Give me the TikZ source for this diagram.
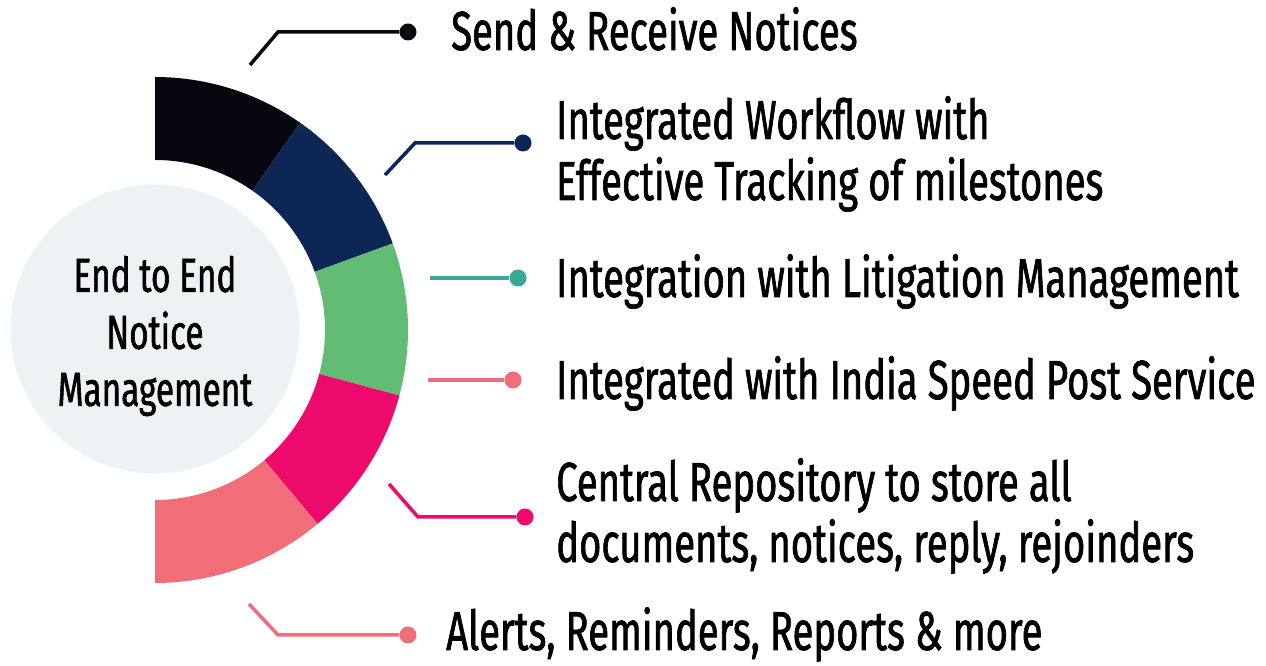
\documentclass[tikz,border=0pt]{standalone}
\usepackage{fontspec}
\setmainfont{Fira Sans}[FakeStretch=0.695, FakeBold=1.2]
\usetikzlibrary{calc}
\definecolor{segblack}{HTML}{07070F}
\definecolor{segnavy}{HTML}{0C2656}
\definecolor{seggreen}{HTML}{62BC74}
\definecolor{segpink}{HTML}{EE0A6C}
\definecolor{segsalmon}{HTML}{F16E78}
\definecolor{linkteal}{HTML}{3AA898}
\definecolor{hubgray}{HTML}{EDF2F4}

\begin{document}
\begin{tikzpicture}[x=1pt, y=1pt,
    bullet/.style={circle, fill=#1, inner sep=0pt, minimum size=17pt},
    link/.style={draw=#1, line width=3.5pt},
    item/.style={anchor=base west, inner sep=0pt, align=left, font=\fontsize{55}{61}\selectfont}]
\useasboundingbox (0,0) rectangle (1266,666);
\coordinate (c) at (155,336);
% ring
\foreach \a/\b/\col in {90/55/segblack, 55/20/segnavy, 20/-15/seggreen, -15/-50/segpink, -50/-90/segsalmon}
  \fill[\col] ($(c)+(\a:253)$) arc[start angle=\a, end angle=\b, radius=253]
    -- ($(c)+(\b:170)$) arc[start angle=\b, end angle=\a, radius=170] -- cycle;
\node[circle, fill=hubgray, minimum size=289pt, inner sep=0pt] (hub) at (155,337) {};
\node[align=center, inner sep=0pt, font=\fontsize{48}{57}\selectfont] (hubtext)
  at ([yshift=-7pt]hub.center) {End to End\\Notice\\Management};
% connectors
\coordinate (s1) at (250,601);
\coordinate (s2) at (385,491);
\coordinate (s3) at (430,388);
\coordinate (s4) at (428,286);
\coordinate (s5) at (389,182);
\coordinate (s6) at (249,62);
\node[bullet=segblack] (d1) at (408,634) {};
\node[bullet=segnavy] (d2) at (523,523) {};
\node[bullet=linkteal] (d3) at (518,388) {};
\node[bullet=segsalmon] (d4) at (513,286) {};
\node[bullet=segpink] (d5) at (525,149) {};
\node[bullet=segsalmon] (d6) at (408,31) {};
\draw[link=segblack] (s1) -- ++(28,33) -- (d1);
\draw[link=segnavy] (s2) -- ++(30,32) -- (d2);
\draw[link=linkteal] (s3) -- (d3);
\draw[link=segsalmon] (s4) -- (d4);
\draw[link=segpink] (s5) -- ++(29,-33) -- (d5);
\draw[link=segsalmon] (s6) -- ++(29,-31) -- (d6);
% texts (base = last line)
\node[item] (t1) at (451,616) {Send \& Receive Notices};
\node[item] (t2) at (556,466) {Integrated Workflow with\\Effective Tracking of milestones};
\node[item] (t3) at (556,369) {Integration with Litigation Management};
\node[item] (t4) at (556,267) {Integrated with India Speed Post Service};
\node[item] (t5) at (556,104) {Central Repository to store all\\documents, notices, reply, rejoinders};
\node[item] (t6) at (446,16) {Alerts, Reminders, Reports \& more};
\end{tikzpicture}
\end{document}
